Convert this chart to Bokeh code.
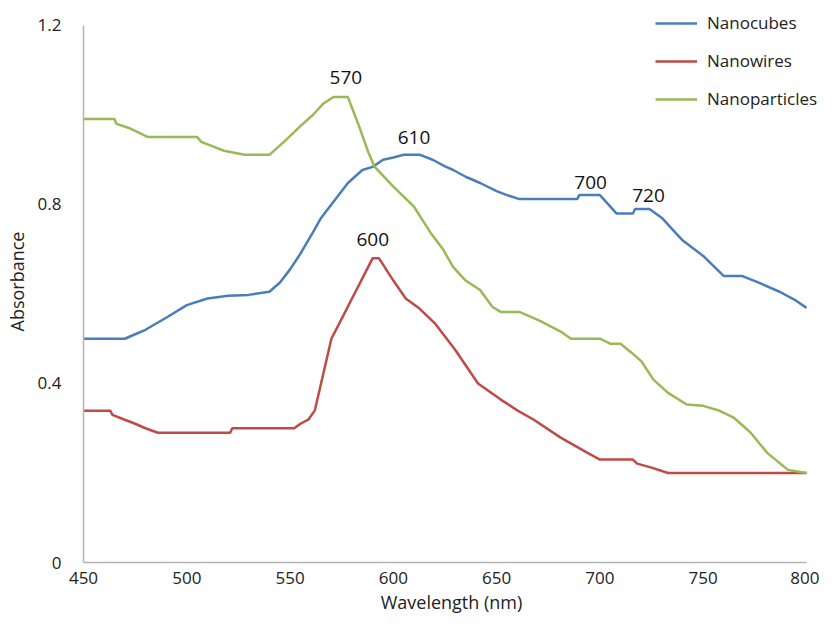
from bokeh.plotting import figure
from bokeh.models import Range1d, FixedTicker, Legend, LegendItem, ColumnDataSource
from bokeh.core.properties import value
from bokeh.embed import file_html
from bokeh.resources import INLINE

# --- data ---
cubes_wl = [450, 470, 475, 480, 490, 500, 510, 520, 530, 540, 545, 550, 555, 561, 565, 570,
            578, 585, 590, 595, 600, 605, 613, 619, 625, 629, 635, 642, 650, 655, 661, 689,
            690, 700, 708, 716, 717, 724, 730, 740, 750, 760, 769, 776, 787, 795, 800]
cubes_abs = [0.50, 0.50, 0.51, 0.52, 0.547, 0.575, 0.59, 0.596, 0.598, 0.605, 0.625, 0.655,
             0.69, 0.737, 0.77, 0.80, 0.848, 0.877, 0.884, 0.90, 0.905, 0.911, 0.911, 0.90,
             0.885, 0.877, 0.862, 0.848, 0.83, 0.821, 0.812, 0.812, 0.821, 0.821, 0.78, 0.78,
             0.79, 0.79, 0.77, 0.72, 0.685, 0.64, 0.64, 0.627, 0.605, 0.585, 0.569]

wires_wl = [450, 463, 464, 470, 475, 480, 486, 521, 522, 552, 555, 559, 562, 565, 570, 575,
            580, 585, 590, 593, 600, 606, 612, 620, 630, 641, 652, 660, 668, 681, 694, 700,
            716, 718, 725, 733, 800]
wires_abs = [0.339, 0.339, 0.33, 0.319, 0.31, 0.30, 0.29, 0.29, 0.30, 0.30, 0.31, 0.32, 0.34,
             0.40, 0.50, 0.545, 0.59, 0.635, 0.68, 0.68, 0.63, 0.59, 0.57, 0.535, 0.475, 0.40,
             0.364, 0.34, 0.319, 0.279, 0.245, 0.23, 0.23, 0.221, 0.212, 0.20, 0.20]

parts_wl = [450, 465, 466, 472, 477, 481, 505, 507, 512, 518, 528, 540, 547, 555, 561, 566,
            571, 578, 583, 588, 591, 600, 610, 618, 624, 629, 635, 642, 648, 652, 661, 671,
            681, 686, 700, 705, 710, 715, 720, 726, 733, 742, 750, 758, 765, 773, 781, 791, 800]
parts_abs = [0.991, 0.991, 0.98, 0.971, 0.96, 0.951, 0.951, 0.94, 0.931, 0.92, 0.911, 0.911,
             0.94, 0.975, 1.0, 1.025, 1.04, 1.04, 0.98, 0.915, 0.884, 0.84, 0.795, 0.737,
             0.70, 0.66, 0.63, 0.609, 0.571, 0.56, 0.56, 0.54, 0.516, 0.50, 0.50, 0.489,
             0.489, 0.47, 0.45, 0.408, 0.379, 0.353, 0.35, 0.339, 0.323, 0.29, 0.245, 0.207, 0.20]

series_names = ["Nanocubes", "Nanowires", "Nanoparticles"]
series_colors = ["#4a7ebb", "#be4b48", "#98b954"]

peak_labels = ["570", "610", "600", "700", "720"]
peak_wl = [577, 610, 590, 695.5, 723.5]
peak_abs = [1.083, 0.949, 0.721, 0.85, 0.821]

x_ticks = [450, 500, 550, 600, 650, 700, 750, 800]
y_ticks = [0, 0.4, 0.8, 1.2]

FONT = "Open Sans"

# frame extends a little past the axes so the legend (drawn inside the frame) is not clipped
p = figure(width=819, height=616, output_backend="svg", toolbar_location=None,
           x_range=Range1d(450, 806.3), y_range=Range1d(0, 1.2558),
           min_border_left=83, min_border_right=0, min_border_top=0, min_border_bottom=53)
p.outline_line_color = None
p.xgrid.visible = False
p.ygrid.visible = False

for ax in (p.xaxis[0], p.yaxis[0]):
    ax.axis_line_color = "#b4b4b4"
    ax.axis_line_width = 1.5
    ax.major_tick_line_color = None
    ax.minor_tick_line_color = None
    ax.major_label_text_font = FONT
    ax.major_label_text_font_size = "17px"
    ax.major_label_text_color = "#222222"
    ax.axis_label_text_font = FONT
    ax.axis_label_text_font_style = "normal"
    ax.axis_label_text_font_size = "18px"
    ax.axis_label_text_color = "#222222"

p.xaxis.bounds = (450, 800)
p.yaxis.bounds = (0, 1.2)
p.xaxis.ticker = FixedTicker(ticks=x_ticks)
p.yaxis.ticker = FixedTicker(ticks=y_ticks)
p.yaxis.major_label_overrides = {0: "0", 0.4: "0.4", 0.8: "0.8", 1.2: "1.2"}
p.xaxis.axis_label = "Wavelength (nm)"
p.yaxis.axis_label = "Absorbance"
p.xaxis.major_label_standoff = 3
p.xaxis.axis_label_standoff = 3
p.yaxis.major_label_standoff = 16
p.yaxis.axis_label_standoff = 6

renderers = []
for wl, ab, c in zip([cubes_wl, wires_wl, parts_wl], [cubes_abs, wires_abs, parts_abs], series_colors):
    r = p.line(wl, ab, line_color=c, line_width=2.5)
    renderers.append(r)

src = ColumnDataSource(dict(x=peak_wl, y=peak_abs, t=peak_labels))
p.text(x="x", y="y", text="t", source=src, text_font=value(FONT), text_font_size="19px",
       text_color="#111111", text_align="center", text_baseline="middle")

legend = Legend(items=[LegendItem(label=n, renderers=[r]) for n, r in zip(series_names, renderers)],
                location=(572, 452), orientation="vertical")
legend.glyph_width = 42
legend.glyph_height = 20
legend.label_height = 20
legend.spacing = 15
legend.padding = 0
legend.margin = 0
legend.label_standoff = 10
legend.label_text_font = FONT
legend.label_text_font_size = "17px"
legend.label_text_color = "#222222"
legend.border_line_color = None
legend.background_fill_alpha = 0
p.add_layout(legend)

open("out.html", "w").write(file_html(p, INLINE))
